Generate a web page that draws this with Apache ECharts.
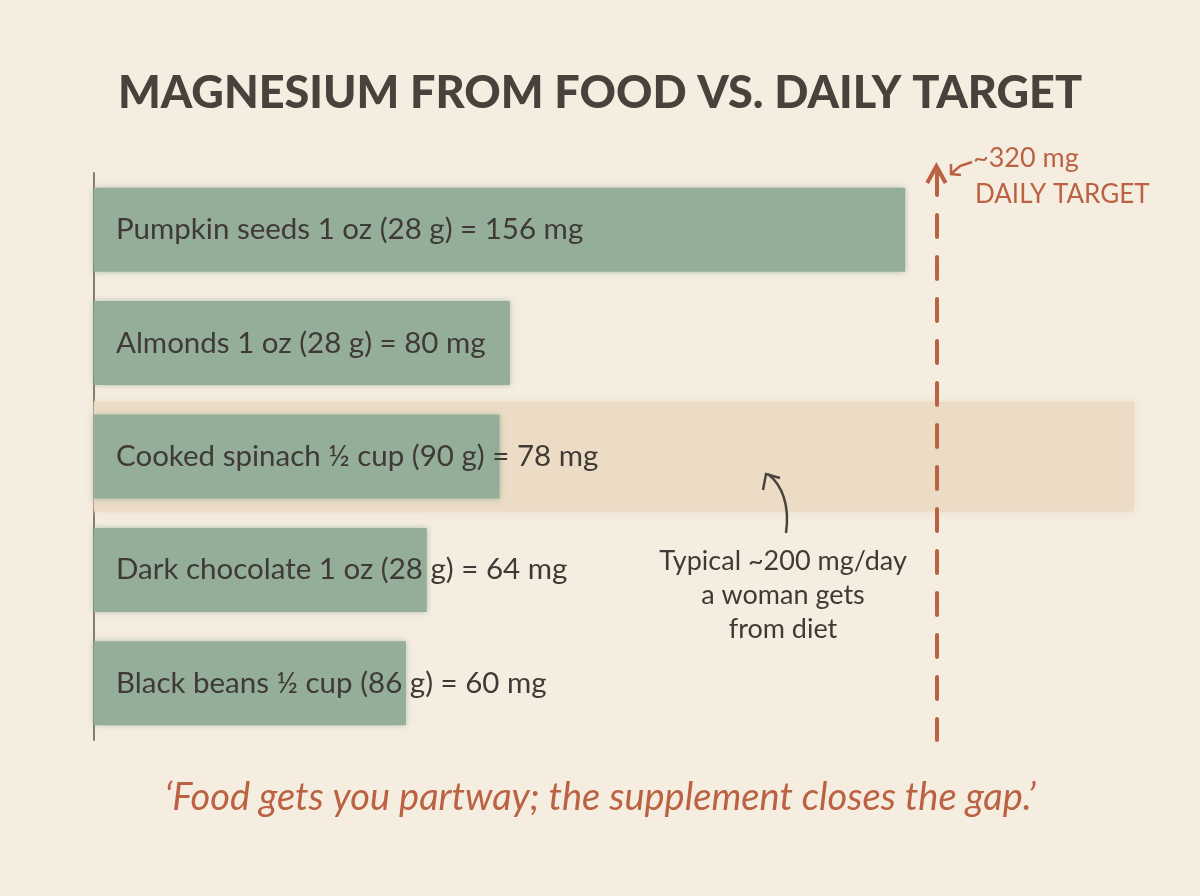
<!DOCTYPE html>
<html>
<head>
<meta charset="utf-8">
<script src="https://cdn.jsdelivr.net/npm/echarts@6/dist/echarts.min.js"></script>
<style>
  html, body { margin: 0; padding: 0; background: #f5eee0; }
  #chart { width: 1200px; height: 896px; }
</style>
</head>
<body>
<div id="chart"></div>
<script>
// data
const foods = [
  'Pumpkin seeds 1 oz (28 g) = 156 mg',
  'Almonds 1 oz (28 g) = 80 mg',
  'Cooked spinach \u00bd cup (90 g) = 78 mg',
  'Dark chocolate 1 oz (28 g) = 64 mg',
  'Black beans \u00bd cup (86 g) = 60 mg'
];
const magnesiumMg = [156, 80, 78, 64, 60];
const typicalDietMg = [null, null, 200, null, null];  // band behind spinach row
const dailyTargetMg = 320;
// the reference draws the 320 mg marker off-scale, at about 162 on the bar scale
const targetMarkerAt = 162;

const rust = '#bb6243';
const ink = '#3f3a35';
const hand = 'Lato, "Noto Sans", sans-serif';

const chart = echarts.init(document.getElementById('chart'));

const option = {
  backgroundColor: '#f5eee0',
  animation: false,
  title: {
    text: 'MAGNESIUM FROM FOOD VS. DAILY TARGET',
    left: 'center',
    top: 66,
    textStyle: {
      fontFamily: 'Lato, sans-serif',
      fontWeight: 900,
      fontSize: 45,
      color: '#48423c'
    }
  },
  grid: { left: 94, right: 14, top: 173, bottom: 156 },
  xAxis: {
    type: 'value',
    min: 0,
    max: 210,
    show: false
  },
  yAxis: [
    {
      type: 'category',
      data: foods,
      inverse: true,
      axisLine: { show: true, lineStyle: { color: '#877a70', width: 2 } },
      axisTick: { show: false },
      axisLabel: { show: false }
    },
    {
      type: 'category',
      data: foods,
      inverse: true,
      show: false
    }
  ],
  series: [
    {
      name: 'typical',
      type: 'bar',
      yAxisIndex: 1,
      data: typicalDietMg,
      barWidth: 110,
      z: 1,
      itemStyle: {
        color: '#ecdcc5',
        shadowBlur: 8,
        shadowColor: 'rgba(236,220,197,0.9)'
      },
      silent: true
    },
    {
      name: 'food',
      type: 'bar',
      data: magnesiumMg,
      barWidth: 84,
      z: 3,
      itemStyle: {
        color: '#94ae9a',
        shadowBlur: 6,
        shadowColor: 'rgba(148,174,154,0.7)'
      },
      label: {
        show: true,
        position: 'insideLeft',
        distance: 22,
        formatter: p => foods[p.dataIndex],
        fontFamily: hand,
        fontSize: 29.5,
        color: ink
      },
      markLine: {
        silent: true,
        symbol: ['path://M0,10 L5,0 L10,10 L8.4,11 L5,4.2 L1.6,11 Z', 'none'],
        symbolSize: [22, 22],
        symbolOffset: [0, 4],
        label: { show: false },
        lineStyle: { color: rust, width: 4, type: [22, 20], cap: 'round' },
        data: [{ xAxis: targetMarkerAt }]
      }
    }
  ],
  graphic: [
    {
      type: 'text',
      left: 973,
      top: 145,
      z: 100,
      style: { text: '~' + dailyTargetMg + ' mg', font: '27px ' + hand, fill: rust }
    },
    {
      type: 'text',
      left: 975,
      top: 182,
      z: 100,
      style: { text: 'DAILY TARGET', font: '26px ' + hand, fill: rust }
    },
    {
      type: 'polyline',
      z: 100,
      shape: { points: [[972, 162], [960, 166], [952, 173]] },
      style: { stroke: rust, lineWidth: 2.5, fill: null }
    },
    {
      type: 'polyline',
      z: 100,
      shape: { points: [[951, 164], [951, 174], [961, 175]] },
      style: { stroke: rust, lineWidth: 2.5, fill: null }
    },
    {
      type: 'text',
      x: 783,
      y: 544,
      z: 100,
      style: {
        text: 'Typical ~200 mg/day\na woman gets\nfrom diet',
        font: '27px ' + hand,
        fill: ink,
        align: 'center',
        lineHeight: 34
      }
    },
    {
      type: 'bezierCurve',
      z: 100,
      shape: { x1: 786, y1: 533, x2: 768, y2: 474, cpx1: 790, cpy1: 505, cpx2: 782, cpy2: 485 },
      style: { stroke: '#4a443e', lineWidth: 2.5, fill: null }
    },
    {
      type: 'polyline',
      z: 100,
      shape: { points: [[763, 490], [766, 474], [780, 478]] },
      style: { stroke: '#4a443e', lineWidth: 2.5, fill: null }
    },
    {
      type: 'text',
      x: 600,
      y: 798,
      z: 100,
      style: {
        text: '\u2018Food gets you partway; the supplement closes the gap.\u2019',
        font: 'italic 38px ' + hand,
        fill: rust,
        align: 'center',
        verticalAlign: 'middle'
      }
    }
  ]
};

chart.setOption(option);
</script>
</body>
</html>
